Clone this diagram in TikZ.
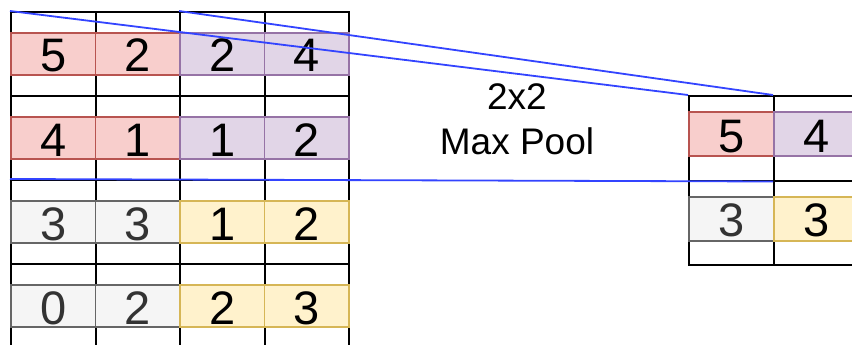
\documentclass[tikz,border=0pt]{standalone}
\usepackage{fontspec}
\setmainfont{Liberation Sans}
\definecolor{redf}{HTML}{F8CECC}\definecolor{redd}{HTML}{B85450}
\definecolor{purf}{HTML}{E1D5E7}\definecolor{purd}{HTML}{9673A6}
\definecolor{grayf}{HTML}{F5F5F5}\definecolor{grayd}{HTML}{666666}
\definecolor{grayt}{HTML}{333333}
\definecolor{yelf}{HTML}{FFF2CC}\definecolor{yeld}{HTML}{D6B656}
\definecolor{mapblue}{RGB}{51,68,255}
\tikzset{
  cellbox/.style={draw=black, fill=white, line width=2pt, minimum width=84.5pt, minimum height=84pt, inner sep=0pt},
  rcellbox/.style={cellbox, minimum width=85pt, minimum height=84.5pt},
  band/.style={line width=1.8pt, minimum width=84.5pt, minimum height=42pt, inner sep=0pt,
    font=\fontsize{47}{47}\selectfont, text height=36pt, text depth=0pt},
  redband/.style={band, draw=redd, fill=redf},
  purband/.style={band, draw=purd, fill=purf},
  grayband/.style={band, draw=grayd, fill=grayf, text=grayt},
  yelband/.style={band, draw=yeld, fill=yelf},
  mapline/.style={draw=mapblue, line width=1.8pt},
  lbl/.style={font=\fontsize{37}{44}\selectfont, anchor=base, inner sep=0pt}
}
\begin{document}
\begin{tikzpicture}[x=1pt,y=-1pt]
\useasboundingbox (0,0) rectangle (852,345);
\clip (0,0) rectangle (852,345);
% left 4x4 grid
\foreach \i/\j/\v/\s in {1/1/5/redband,1/2/2/redband,1/3/2/purband,1/4/4/purband,
                         2/1/4/redband,2/2/1/redband,2/3/1/purband,2/4/2/purband,
                         3/1/3/grayband,3/2/3/grayband,3/3/1/yelband,3/4/2/yelband,
                         4/1/0/grayband,4/2/2/grayband,4/3/2/yelband,4/4/3/yelband}{
  \node[cellbox] (c\i\j) at ({11+84.5*(\j-0.5)},{12+84*(\i-0.5)}) {};
  \node[\s] (b\i\j) at (c\i\j.center) {\v};
}
% right 2x2 grid
\foreach \i/\j/\v/\s in {1/1/5/redband,1/2/4/purband,2/1/3/grayband,2/2/3/yelband}{
  \node[rcellbox] (r\i\j) at ({689+85*(\j-0.5)},{96+84.5*(\i-0.5)}) {};
  \node[\s, minimum width=85pt, minimum height=44pt] (s\i\j) at ([yshift=4pt]r\i\j.center) {\v};
}
% label
\node[lbl] (t1) at (517,110) {2x2};
\node[lbl] (t2) at (517,154) {Max Pool};
% mapping lines
\draw[mapline] (c11.north west) -- (r11.north west);
\draw[mapline] (c13.north west) -- (r12.north west);
\draw[mapline] (c31.north west) -- (r12.south west);
\end{tikzpicture}
\end{document}
